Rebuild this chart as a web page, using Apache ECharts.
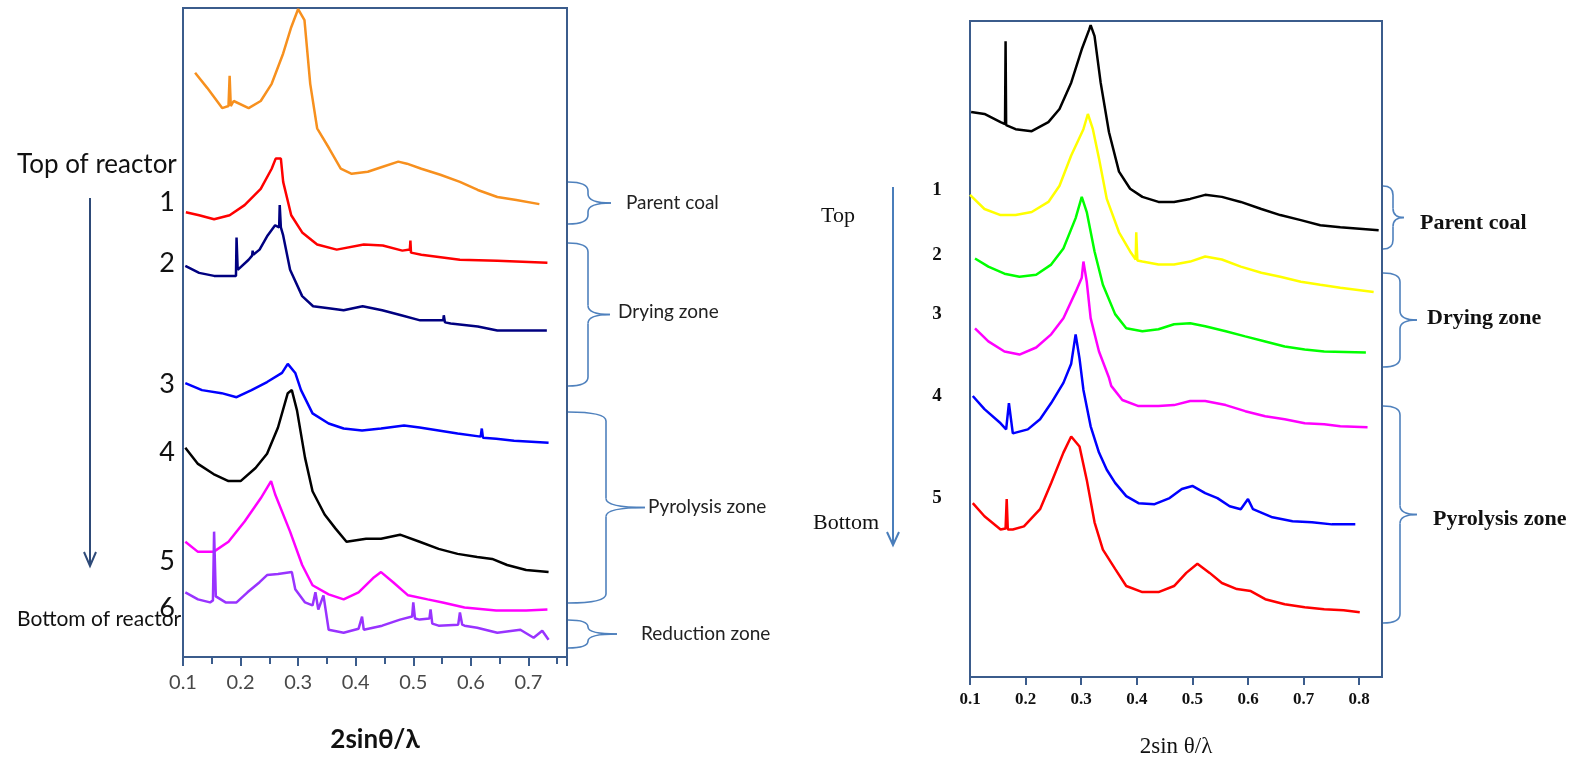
<!DOCTYPE html>
<html>
<head>
<meta charset="utf-8">
<script src="https://cdn.jsdelivr.net/npm/echarts@6/dist/echarts.min.js"></script>
<style>
  html, body { margin: 0; padding: 0; background: #fff; }
  #chart { width: 1584px; height: 760px; }
</style>
</head>
<body>
<div id="chart"></div>
<script>
// ─── Left panel: reactor samples (x = 2sinθ/λ, y = offset intensity) ───
const leftTop = [[0.121,578],[0.142,563],[0.168,543],[0.179,545],[0.181,575],[0.183,545],[0.188,550],[0.214,543],[0.235,550],[0.254,567],[0.274,597],[0.288,623],[0.300,641],[0.311,630],[0.321,567],[0.333,523],[0.354,503],[0.374,483],[0.393,478],[0.421,480],[0.447,485],[0.474,490],[0.489,488],[0.514,483],[0.547,477],[0.581,470],[0.612,462],[0.646,455],[0.679,452],[0.719,448]];
const left1 = [[0.105,440],[0.128,437],[0.154,433],[0.181,437],[0.207,447],[0.235,463],[0.254,483],[0.261,493],[0.270,493],[0.274,470],[0.288,437],[0.307,420],[0.333,408],[0.367,403],[0.414,408],[0.447,407],[0.481,402],[0.494,403],[0.495,412],[0.496,400],[0.514,398],[0.581,393],[0.646,392],[0.733,390]];
const left2 = [[0.104,387],[0.128,380],[0.154,377],[0.181,377],[0.192,377],[0.193,415],[0.195,383],[0.214,393],[0.220,397],[0.221,402],[0.222,398],[0.233,403],[0.247,417],[0.260,427],[0.267,425],[0.268,447],[0.270,425],[0.274,417],[0.286,383],[0.307,357],[0.326,347],[0.353,345],[0.379,343],[0.412,347],[0.446,343],[0.479,338],[0.512,333],[0.552,333],[0.553,338],[0.555,331],[0.565,330],[0.612,327],[0.646,323],[0.732,323]];
const left3 = [[0.104,271],[0.133,264],[0.167,261],[0.193,257],[0.219,264],[0.246,272],[0.272,281],[0.282,290],[0.295,281],[0.305,264],[0.325,241],[0.353,231],[0.379,226],[0.411,224],[0.444,226],[0.484,229],[0.511,227],[0.544,224],[0.577,221],[0.617,218],[0.619,226],[0.621,217],[0.644,216],[0.675,214],[0.735,212]];
const left4 = [[0.104,207],[0.126,191],[0.153,181],[0.179,174],[0.200,174],[0.226,187],[0.246,201],[0.265,227],[0.282,261],[0.289,264],[0.298,244],[0.312,197],[0.325,164],[0.346,141],[0.365,127],[0.384,114],[0.418,117],[0.444,117],[0.477,121],[0.511,114],[0.544,107],[0.577,102],[0.611,99],[0.637,97],[0.663,91],[0.696,86],[0.735,84]];
const left5 = [[0.104,114],[0.126,104],[0.153,104],[0.179,114],[0.207,134],[0.235,157],[0.253,174],[0.260,161],[0.286,124],[0.307,91],[0.325,71],[0.353,62],[0.379,57],[0.405,64],[0.432,79],[0.444,84],[0.465,74],[0.491,61],[0.525,57],[0.551,54],[0.589,49],[0.644,46],[0.696,46],[0.733,47]];
const left6 = [[0.104,64],[0.126,57],[0.147,54],[0.152,56],[0.154,124],[0.157,60],[0.174,54],[0.193,54],[0.212,64],[0.233,74],[0.246,81],[0.265,82],[0.289,84],[0.295,67],[0.312,54],[0.325,51],[0.330,64],[0.335,47],[0.344,61],[0.353,27],[0.379,24],[0.405,28],[0.411,40],[0.414,27],[0.446,31],[0.477,37],[0.498,40],[0.500,54],[0.503,38],[0.511,37],[0.528,38],[0.530,47],[0.533,33],[0.544,31],[0.578,32],[0.581,44],[0.585,32],[0.589,31],[0.611,29],[0.646,24],[0.686,27],[0.709,19],[0.724,26],[0.735,17]];

// ─── Right panel ───
const rightTop = [[0.102,559],[0.126,557],[0.155,549],[0.163,547],[0.164,629],[0.165,546],[0.182,542],[0.211,540],[0.241,549],[0.261,562],[0.282,588],[0.301,621],[0.314,640],[0.317,645],[0.324,634],[0.335,588],[0.350,539],[0.368,500],[0.388,483],[0.410,475],[0.439,470],[0.467,470],[0.496,473],[0.523,477],[0.553,475],[0.587,470],[0.624,463],[0.658,457],[0.695,452],[0.730,447],[0.766,445],[0.835,442]];
const right1 = [[0.100,477],[0.126,463],[0.155,457],[0.182,457],[0.211,460],[0.241,470],[0.261,486],[0.282,516],[0.304,542],[0.312,557],[0.321,542],[0.332,513],[0.346,473],[0.368,440],[0.388,421],[0.398,413],[0.399,440],[0.401,412],[0.410,411],[0.439,408],[0.467,408],[0.496,411],[0.523,416],[0.553,413],[0.587,406],[0.624,400],[0.658,396],[0.695,391],[0.730,388],[0.766,385],[0.826,381]];
const right2 = [[0.109,414],[0.133,406],[0.162,399],[0.189,396],[0.219,398],[0.246,408],[0.268,424],[0.290,454],[0.301,475],[0.310,460],[0.324,421],[0.339,388],[0.361,359],[0.381,345],[0.410,342],[0.439,344],[0.467,349],[0.496,350],[0.523,347],[0.560,342],[0.595,337],[0.631,332],[0.666,327],[0.702,324],[0.737,322],[0.812,321]];
const right3 = [[0.109,345],[0.133,332],[0.162,322],[0.189,319],[0.219,326],[0.246,339],[0.268,355],[0.290,381],[0.301,395],[0.304,411],[0.310,391],[0.317,355],[0.332,322],[0.350,296],[0.354,288],[0.374,274],[0.403,268],[0.439,268],[0.467,269],[0.496,273],[0.523,273],[0.560,269],[0.595,263],[0.631,258],[0.666,255],[0.702,251],[0.737,250],[0.766,248],[0.815,247]];
const right4 = [[0.105,278],[0.126,265],[0.155,251],[0.165,245],[0.170,271],[0.177,241],[0.204,245],[0.226,255],[0.246,271],[0.268,291],[0.282,310],[0.290,339],[0.297,315],[0.304,284],[0.317,248],[0.332,222],[0.346,205],[0.361,192],[0.381,179],[0.403,172],[0.432,171],[0.459,177],[0.481,186],[0.500,189],[0.523,182],[0.545,177],[0.567,169],[0.587,166],[0.600,176],[0.609,166],[0.644,158],[0.680,154],[0.715,153],[0.751,151],[0.793,151]];
const right5 = [[0.105,172],[0.126,159],[0.155,146],[0.164,147],[0.166,176],[0.168,146],[0.177,146],[0.197,149],[0.226,166],[0.246,192],[0.268,222],[0.282,238],[0.297,228],[0.310,195],[0.324,153],[0.339,126],[0.361,107],[0.381,90],[0.410,84],[0.439,84],[0.467,90],[0.489,103],[0.509,112],[0.531,103],[0.553,93],[0.580,87],[0.605,85],[0.631,77],[0.666,72],[0.702,69],[0.737,67],[0.772,66],[0.801,64]];

const LEFT_SERIES = [
  ["top", leftTop, "#f7901e"], ["1", left1, "#ff0000"], ["2", left2, "#000080"],
  ["3", left3, "#0000ff"], ["4", left4, "#000000"], ["5", left5, "#ff00ff"], ["6", left6, "#9933ff"]
];
const RIGHT_SERIES = [
  ["top", rightTop, "#000000"], ["1", right1, "#ffff00"], ["2", right2, "#00ff00"],
  ["3", right3, "#ff00ff"], ["4", right4, "#0000ff"], ["5", right5, "#ff0000"]
];
const LEFT_TICKS = [0.1, 0.2, 0.3, 0.4, 0.5, 0.6, 0.7];
const RIGHT_TICKS = [0.1, 0.2, 0.3, 0.4, 0.5, 0.6, 0.7, 0.8];

const BOX = "#3b5c8c";
const BRACE = "#4f81bd";
const SANS = "Lato, 'Open Sans', sans-serif";
const SERIF = "'Liberation Serif', 'DejaVu Serif', serif";

// curly brace "}" built from quadratic curves and lines
function brace(x0, y1, y2, xv, xt) {
  const ym = (y1 + y2) / 2, r = Math.min(9, (y2 - y1) / 4);
  const st = { stroke: BRACE, lineWidth: 1.6, fill: null };
  const q = (x1, y1_, cx, cy, x2, y2_) => ({ type: "bezierCurve", silent: true, shape: { x1, y1: y1_, cpx1: cx, cpy1: cy, x2, y2: y2_ }, style: st });
  const l = (x1, y1_, x2, y2_) => ({ type: "line", silent: true, shape: { x1, y1: y1_, x2, y2: y2_ }, style: st });
  return {
    type: "group", silent: true,
    children: [
      q(x0, y1, xv, y1, xv, y1 + r),
      l(xv, y1 + r, xv, ym - r),
      q(xv, ym - r, xv, ym, xt, ym),
      q(xt, ym, xv, ym, xv, ym + r),
      l(xv, ym + r, xv, y2 - r),
      q(xv, y2 - r, xv, y2, x0, y2)
    ]
  };
}
const txt = (x, y, text, font, extra) => ({
  type: "text", x, y, silent: true,
  style: Object.assign({ text, font, fill: "#111", align: "left", verticalAlign: "middle" }, extra || {})
});

const chart = echarts.init(document.getElementById("chart"), null, { renderer: "canvas" });

const mkSeries = (list, idx) => list.map(([name, data, color]) => ({
  name, type: "line", xAxisIndex: idx, yAxisIndex: idx, data,
  showSymbol: false, symbol: "none", animation: false,
  lineStyle: { color, width: 2.5 }, z: 3
}));

const option = {
  animation: false,
  grid: [
    { left: 183, top: 8, width: 384, height: 649, show: true, borderColor: BOX, borderWidth: 2, backgroundColor: "transparent", outerBoundsMode: "none", containLabel: false },
    { left: 970, top: 21, width: 412, height: 656, show: true, borderColor: BOX, borderWidth: 2, backgroundColor: "transparent", outerBoundsMode: "none", containLabel: false }
  ],
  xAxis: [
    {
      type: "value", gridIndex: 0, min: 0.1, max: 0.767, interval: 0.1,
      axisLine: { lineStyle: { color: BOX, width: 2 } },
      axisTick: { show: true, length: 9, lineStyle: { color: BOX, width: 2 } },
      minorTick: { show: true, splitNumber: 2, length: 7, lineStyle: { color: BOX, width: 2 } },
      splitLine: { show: false },
      axisLabel: {
        showMaxLabel: false, margin: 16, color: "#484848", fontFamily: SANS, fontSize: 20,
        formatter: v => LEFT_TICKS.some(t => Math.abs(t - v) < 1e-6) ? v.toFixed(1) : ""
      },
      name: "2sinθ/λ", nameLocation: "middle", nameGap: 70,
      nameTextStyle: { color: "#111", fontFamily: SANS, fontSize: 26, fontWeight: "bold" }
    },
    {
      type: "value", gridIndex: 1, min: 0.1, max: 0.841, interval: 0.1,
      axisLine: { lineStyle: { color: BOX, width: 2 } },
      axisTick: { show: true, length: 8, lineStyle: { color: BOX, width: 2 } },
      splitLine: { show: false },
      axisLabel: {
        showMaxLabel: false, margin: 14, color: "#111", fontFamily: SERIF, fontSize: 17, fontWeight: "bold",
        formatter: v => RIGHT_TICKS.some(t => Math.abs(t - v) < 1e-6) ? v.toFixed(1) : ""
      },
      name: "2sin θ/λ", nameLocation: "middle", nameGap: 58,
      nameTextStyle: { color: "#111", fontFamily: SERIF, fontSize: 23 }
    }
  ],
  yAxis: [
    { type: "value", gridIndex: 0, min: 0, max: 642, show: false },
    { type: "value", gridIndex: 1, min: 0, max: 649, show: false }
  ],
  series: [...mkSeries(LEFT_SERIES, 0), ...mkSeries(RIGHT_SERIES, 1)],
  graphic: [
    // left panel annotations
    txt(17, 165, "Top of reactor", `26px ${SANS}`),
    txt(17, 619, "Bottom of reactor", `21px ${SANS}`, { textLetterSpacing: -1 }),
    { type: "line", silent: true, shape: { x1: 90, y1: 198, x2: 90, y2: 566 }, style: { stroke: "#2e4a78", lineWidth: 2 } },
    { type: "polyline", silent: true, shape: { points: [[84, 552], [90, 566], [96, 552]] }, style: { stroke: "#2e4a78", lineWidth: 2, fill: null } },
    txt(167, 202, "1", `27px ${SANS}`, { align: "center" }),
    txt(167, 263, "2", `27px ${SANS}`, { align: "center" }),
    txt(167, 384, "3", `27px ${SANS}`, { align: "center" }),
    txt(167, 452, "4", `27px ${SANS}`, { align: "center" }),
    txt(167, 561, "5", `27px ${SANS}`, { align: "center" }),
    txt(167, 608, "6", `27px ${SANS}`, { align: "center" }),
    brace(568, 182, 224, 588, 611),
    brace(568, 243, 386, 588, 610),
    brace(568, 412, 603, 606, 645),
    brace(568, 620, 648, 588, 617),
    txt(626, 203, "Parent coal", `19px ${SANS}`, { fill: "#222" }),
    txt(618, 312, "Drying zone", `19px ${SANS}`, { fill: "#222" }),
    txt(648, 507, "Pyrolysis zone", `19px ${SANS}`, { fill: "#222" }),
    txt(641, 634, "Reduction zone", `19px ${SANS}`, { fill: "#222" }),
    // right panel annotations
    txt(838, 216, "Top", `22px ${SERIF}`, { align: "center" }),
    txt(846, 523, "Bottom", `22px ${SERIF}`, { align: "center" }),
    { type: "line", silent: true, shape: { x1: 893, y1: 187, x2: 893, y2: 545 }, style: { stroke: "#4a7ebb", lineWidth: 2 } },
    { type: "polyline", silent: true, shape: { points: [[887, 532], [893, 545], [899, 532]] }, style: { stroke: "#4a7ebb", lineWidth: 2, fill: null } },
    txt(937, 190, "1", `bold 19px ${SERIF}`, { align: "center" }),
    txt(937, 255, "2", `bold 19px ${SERIF}`, { align: "center" }),
    txt(937, 314, "3", `bold 19px ${SERIF}`, { align: "center" }),
    txt(937, 396, "4", `bold 19px ${SERIF}`, { align: "center" }),
    txt(937, 498, "5", `bold 19px ${SERIF}`, { align: "center" }),
    brace(1383, 186, 249, 1393, 1404),
    brace(1383, 273, 367, 1400, 1417),
    brace(1383, 406, 623, 1400, 1417),
    txt(1420, 223, "Parent coal", `bold 22px ${SERIF}`),
    txt(1427, 318, "Drying zone", `bold 22px ${SERIF}`),
    txt(1433, 519, "Pyrolysis zone", `bold 22px ${SERIF}`)
  ]
};

chart.setOption(option);
</script>
</body>
</html>
